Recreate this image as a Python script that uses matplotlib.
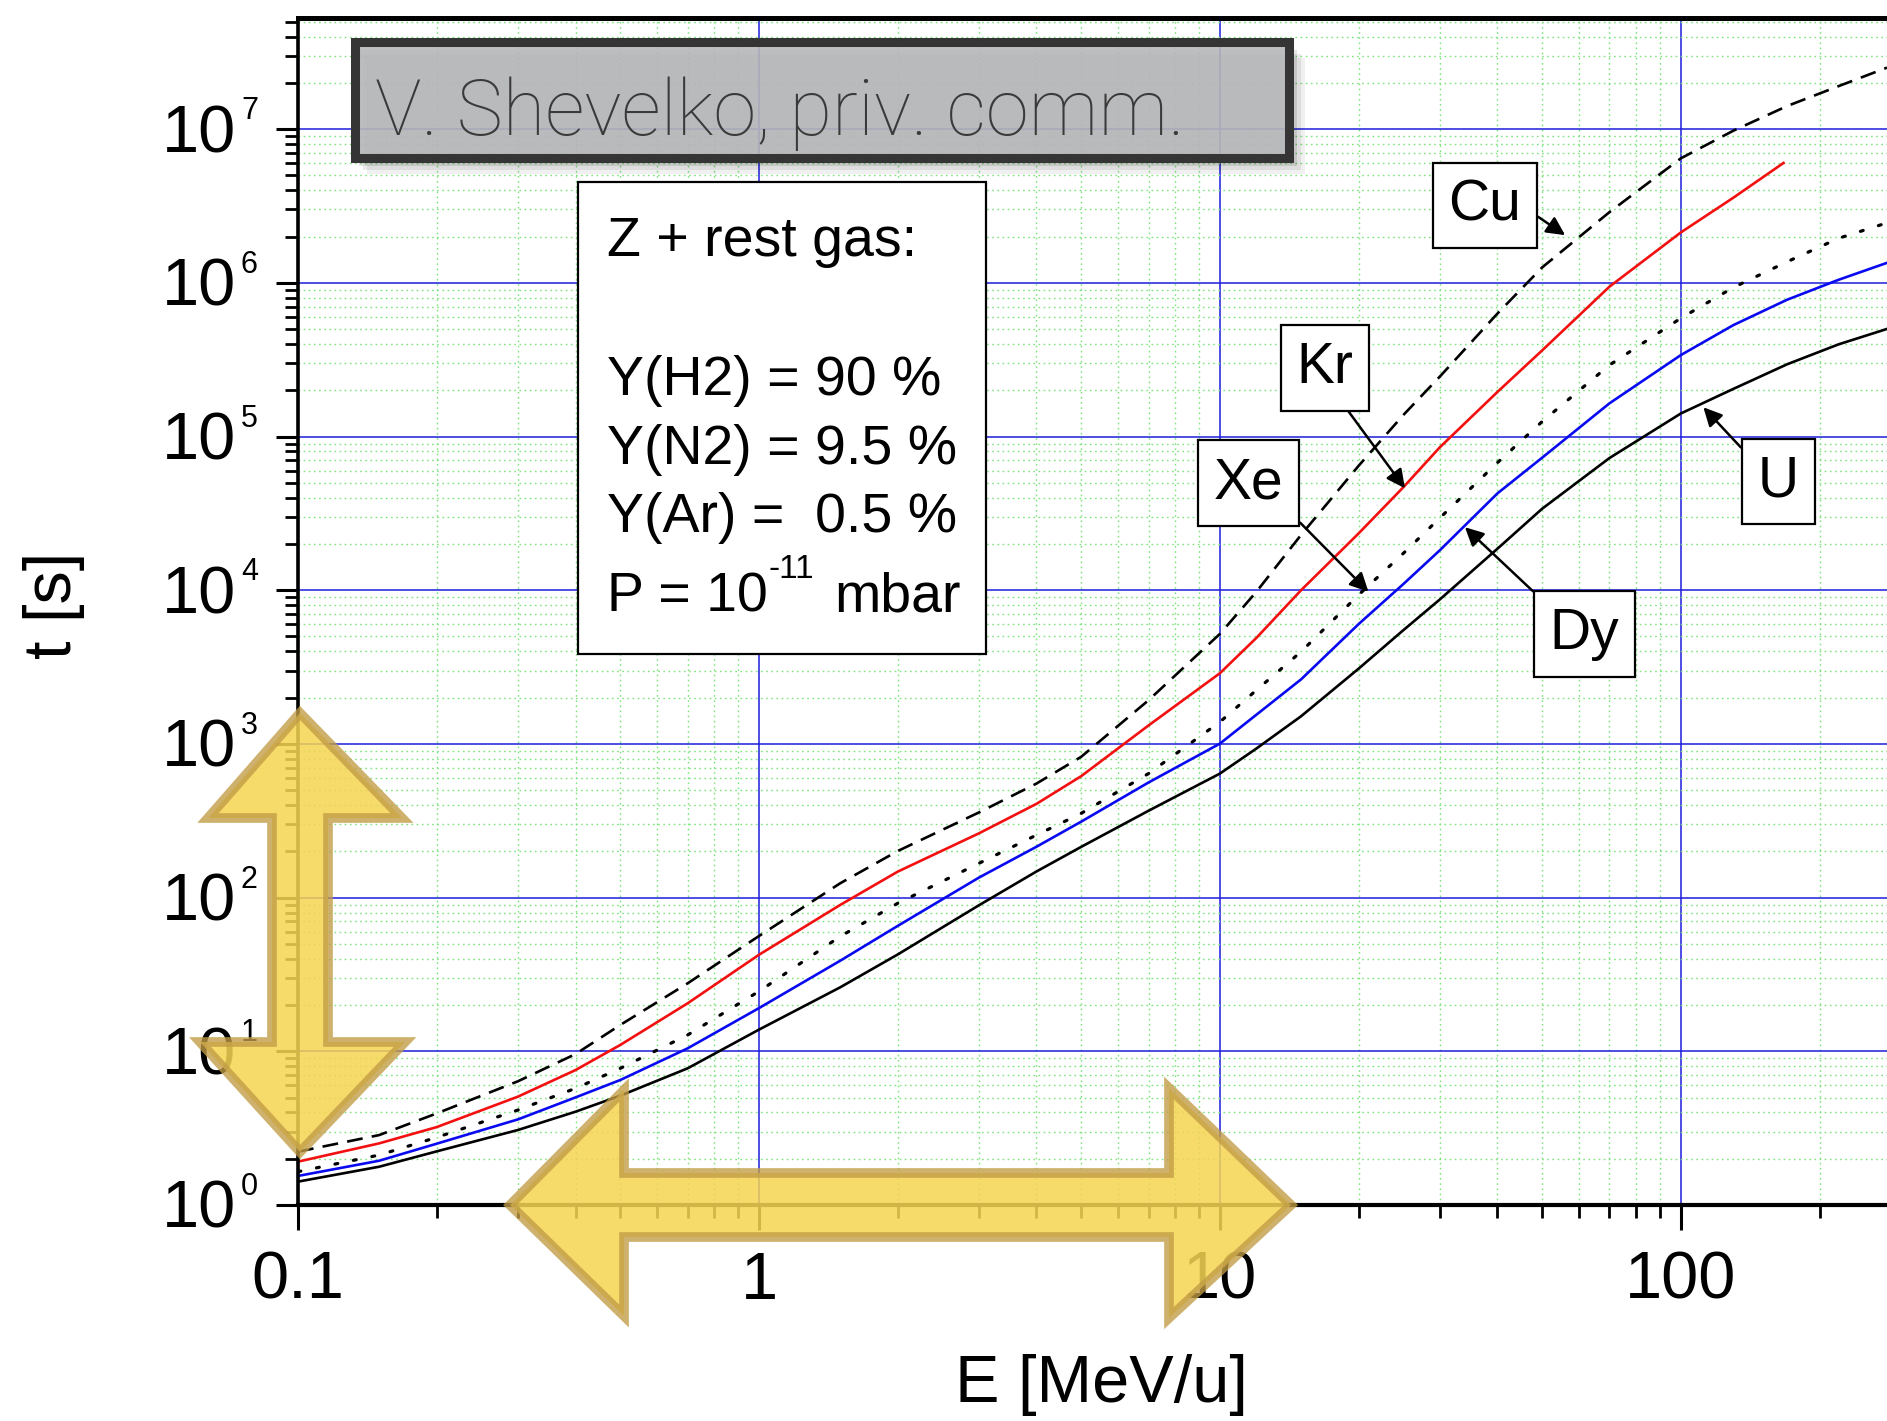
import matplotlib
matplotlib.use('Agg')
from matplotlib import pyplot as plt
from matplotlib import transforms
from matplotlib.patches import Polygon, Rectangle
from matplotlib.ticker import LogLocator, FuncFormatter, NullFormatter

# --- lifetime of ions in rest gas: log10(t / s) vs E (MeV/u) ---
energy = [0.1, 0.15, 0.2, 0.3, 0.4, 0.5, 0.7, 1, 1.5, 2, 3, 4, 5, 7, 10, 12, 15,
          20, 25, 30, 40, 50, 70, 100, 130, 170, 220, 280]
lg_cu = [0.347, 0.455, 0.596, 0.805, 0.982, 1.171, 1.442, 1.75, 2.093, 2.303, 2.554,
         2.742, 2.916, 3.284, 3.716, 3.99, 4.36, 4.81, 5.14, 5.39, 5.80, 6.10, 6.46,
         6.81, 6.99, 7.15, 7.28, 7.40]
lg_xe = [0.217, 0.325, 0.44, 0.618, 0.759, 0.889, 1.106, 1.39, 1.747, 1.963, 2.223,
         2.407, 2.548, 2.807, 3.143, 3.35, 3.60, 3.97, 4.24, 4.47, 4.83, 5.097, 5.465,
         5.77, 5.97, 6.137, 6.29, 6.39]
lg_dy = [0.189, 0.288, 0.399, 0.557, 0.70, 0.813, 1.019, 1.281, 1.589, 1.816, 2.13,
         2.331, 2.494, 2.749, 3.002, 3.19, 3.42, 3.78, 4.04, 4.26, 4.63, 4.862, 5.216,
         5.53, 5.725, 5.89, 6.02, 6.13]
lg_u = [0.152, 0.249, 0.349, 0.488, 0.607, 0.711, 0.889, 1.141, 1.416, 1.63, 1.95,
        2.17, 2.33, 2.565, 2.807, 2.97, 3.18, 3.49, 3.74, 3.94, 4.27, 4.53, 4.86,
        5.15, 5.31, 5.47, 5.60, 5.70]
energy_kr = [0.1, 0.15, 0.2, 0.3, 0.4, 0.5, 0.7, 1, 1.5, 2, 3, 4, 5, 7, 10, 12, 15,
             20, 25, 30, 40, 50, 70, 100, 130, 167]
lg_kr = [0.282, 0.401, 0.507, 0.705, 0.878, 1.041, 1.312, 1.628, 1.952, 2.169, 2.418,
         2.61, 2.79, 3.12, 3.46, 3.69, 4.00, 4.37, 4.67, 4.93, 5.29, 5.56, 5.975,
         6.328, 6.554, 6.78]

# ion labels: name, arrow tip (E, log t), box centre (E, log t), arrow start on box
ion_names = ['Cu', 'Kr', 'Xe', 'Dy', 'U']
tip_e = [56.1, 25.2, 21.0, 34.0, 111.9]
tip_lg = [6.31, 4.663, 3.99, 4.41, 5.19]
box_e = [37.6, 16.9, 11.54, 61.8, 162.6]
box_lg = [6.503, 5.447, 4.697, 3.715, 4.707]
start_rel = [(1.0, 0.5), (0.7, 0.0), (0.97, 0.12), (0.0, 1.0), (0.0, 0.8)]

gas_lines = ['Z + rest gas:', 'Y(H2) = 90 %', 'Y(N2) = 9.5 %', 'Y(Ar) =  0.5 %']

# ---------------------------------------------------------------
W, H = 1887, 1421
plt.rcParams['font.family'] = ['Liberation Sans', 'DejaVu Sans']
fig = plt.figure(figsize=(W / 100, H / 100), dpi=100)
fig.patch.set_facecolor('white')


def fp(x, y):
    # image pixel (origin top-left) -> figure fraction
    return (x / W, 1 - y / H)


ax = fig.add_axes([298 / W, (H - 1205) / H, (W - 298) / W, (1205 - 18) / H])
ax.set_xscale('log')
ax.set_yscale('log')
ax.set_xlim(0.1, 280)
ax.set_ylim(1, 10 ** 7.723)

ax.set_axisbelow(True)
ax.grid(True, which='minor', color='#7ee47e', linestyle=(0, (1.2, 2.5)), linewidth=1.0)
ax.grid(True, which='major', color='#1c1cdc', linestyle='-', linewidth=1.1)

lw = 1.9
ax.plot(energy, [10 ** v for v in lg_cu], color='black', lw=lw, dashes=(6, 3.5))
ax.plot(energy_kr, [10 ** v for v in lg_kr], color='#f21010', lw=lw)
ax.plot(energy, [10 ** v for v in lg_xe], color='black', lw=2.3, dashes=(0.9, 5.0),
        dash_capstyle='round')
ax.plot(energy, [10 ** v for v in lg_dy], color='#0a0af0', lw=lw)
ax.plot(energy, [10 ** v for v in lg_u], color='black', lw=lw)

# axes frame and ticks
for side, w in [('left', 2.6), ('bottom', 3.0), ('top', 3.6)]:
    ax.spines[side].set_linewidth(w)
ax.spines['right'].set_visible(False)
ax.xaxis.set_major_locator(LogLocator(base=10, numticks=10))
ax.xaxis.set_minor_locator(LogLocator(base=10, subs=range(2, 10), numticks=10))
ax.yaxis.set_major_locator(LogLocator(base=10, numticks=12))
ax.yaxis.set_minor_locator(LogLocator(base=10, subs=range(2, 10), numticks=12))
ax.xaxis.set_major_formatter(FuncFormatter(lambda v, p: f'{v:g}'))
ax.xaxis.set_minor_formatter(NullFormatter())
ax.tick_params(axis='x', which='major', direction='out', length=18, width=2.2,
               pad=15, labelsize=48)
ax.tick_params(axis='x', which='minor', direction='out', length=9.5, width=2.0)
ax.tick_params(axis='y', which='major', direction='out', length=16, width=2.2,
               labelleft=False)
ax.tick_params(axis='y', which='minor', direction='out', length=9.5, width=2.0)
ax.tick_params(top=False, right=False, which='both')

# decade labels 10^k on the left
ytr = ax.get_yaxis_transform()
for k in range(0, 8):
    ax.text(0, 10 ** k, '10', fontsize=48, ha='right', va='baseline',
            transform=transforms.offset_copy(ytr, fig=fig, x=-62, y=-23, units='dots'))
    ax.text(0, 10 ** k, str(k), fontsize=22, ha='left', va='baseline',
            transform=transforms.offset_copy(ytr, fig=fig, x=-57, y=10, units='dots'))

fig.text(*fp(54, 605), 't [s]', fontsize=48, rotation=90, ha='center', va='center')
fig.text(*fp(1101, 1385), 'E [MeV/u]', fontsize=48, ha='center', va='center')

# ion labels with arrows
for name, te, tl, be, bl, rel in zip(ion_names, tip_e, tip_lg, box_e, box_lg, start_rel):
    ax.annotate(name, xy=(te, 10 ** tl), xytext=(be, 10 ** bl), fontsize=41,
                ha='center', va='center', zorder=6,
                bbox=dict(boxstyle='square,pad=0.28', fc='white', ec='black', lw=1.6),
                arrowprops=dict(arrowstyle='-|>', color='black', lw=1.8,
                                mutation_scale=28, shrinkA=0, shrinkB=0, relpos=rel))

# rest gas composition box
fig.add_artist(Rectangle(fp(578, 654), (986 - 578) / W, (654 - 182) / H,
                         transform=fig.transFigure, fc='white', ec='black', lw=1.6,
                         zorder=2))
for txt, yb in zip(gas_lines, [256, 395, 464, 532]):
    fig.text(*fp(607, yb), txt, fontsize=40, ha='left', va='baseline', zorder=3)
fig.text(*fp(607, 611), 'P = 10', fontsize=40, ha='left', va='baseline', zorder=3)
fig.text(*fp(768, 578), '-11', fontsize=24, ha='left', va='baseline', zorder=3)
fig.text(*fp(834, 611), 'mbar', fontsize=40, ha='left', va='baseline', zorder=3)

# grey reference banner with soft shadow
bx0, by0, bx1, by1 = 355, 42, 1289, 158
for off, a in [(16, 0.06), (12, 0.08), (8, 0.10)]:
    fig.add_artist(Rectangle(fp(bx0 + off - 4, by1 + off), (bx1 - bx0 + 4) / W,
                             (by1 - by0) / H, transform=fig.transFigure,
                             fc='black', ec='none', alpha=a, zorder=2))
fig.add_artist(Rectangle(fp(bx0, by1), (bx1 - bx0) / W, (by1 - by0) / H,
                         transform=fig.transFigure, fc=(0.72, 0.725, 0.735, 0.9),
                         ec='#353535', lw=6.5, zorder=3))
fig.text(*fp(375, 135), 'V. Shevelko, priv. comm.', fontsize=56, color='#3a3a3a',
         family=['Roboto', 'Liberation Sans'], weight='light', ha='left',
         va='baseline', zorder=4)

# yellow double arrows along the axes
face = (0.96, 0.83, 0.32, 0.86)
edge = (0.76, 0.61, 0.27, 0.78)
cx = 300
vpts = [(cx, 713), (cx + 102, 818), (cx + 28, 818), (cx + 28, 1042), (cx + 105, 1042),
        (cx, 1152), (cx - 100, 1042), (cx - 28, 1042), (cx - 28, 818), (cx - 92, 818)]
cy = 1205
hpts = [(510, cy), (624, cy - 115), (624, cy - 32), (1169, cy - 32), (1169, cy - 117),
        (1291, cy), (1169, cy + 113), (1169, cy + 32), (624, cy + 32), (624, cy + 111)]
for pts in (vpts, hpts):
    fig.add_artist(Polygon([fp(x, y) for x, y in pts], closed=True,
                           transform=fig.transFigure, fc=face, ec=edge, lw=7,
                           joinstyle='miter', zorder=8))

fig.savefig('out.png', dpi=100)
